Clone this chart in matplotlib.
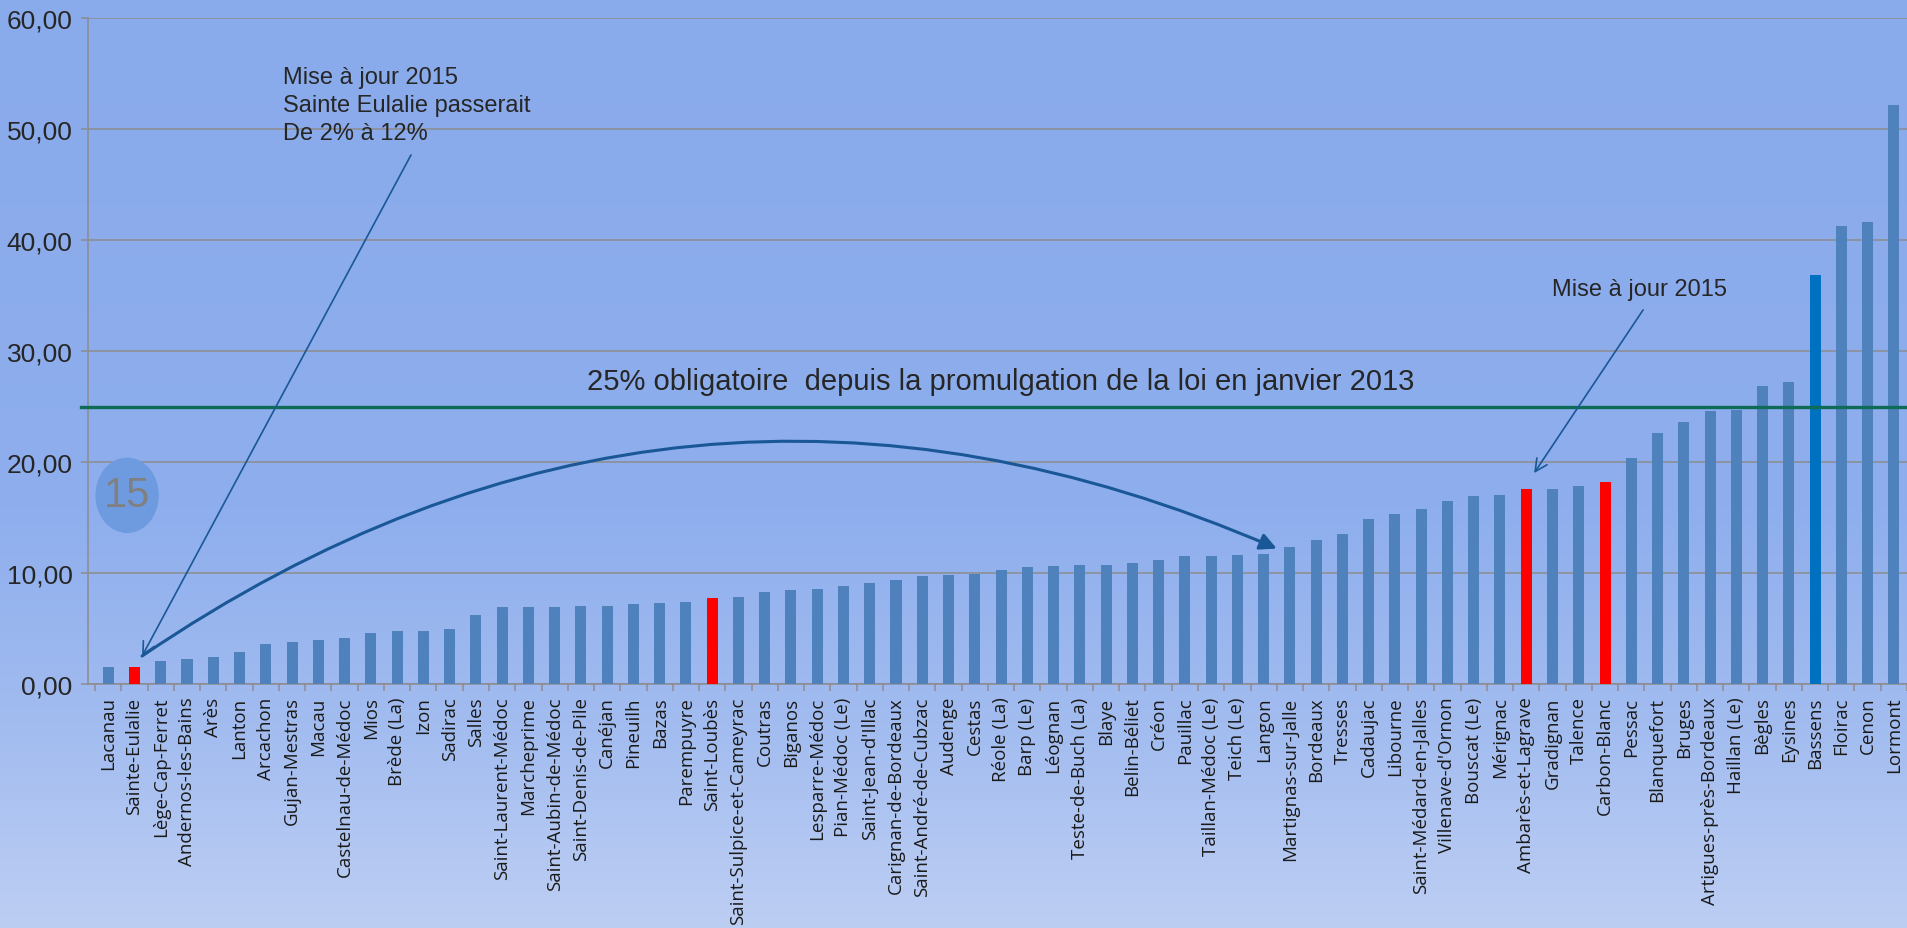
import numpy as np
import matplotlib.pyplot as plt
from matplotlib.patches import Ellipse, FancyArrowPatch
from matplotlib.colors import to_rgb

# data (% logements sociaux par commune)
communes = [
    "Lacanau", "Sainte-Eulalie", "Lège-Cap-Ferret", "Andernos-les-Bains", "Arès",
    "Lanton", "Arcachon", "Gujan-Mestras", "Macau", "Castelnau-de-Médoc", "Mios",
    "Brède (La)", "Izon", "Sadirac", "Salles", "Saint-Laurent-Médoc", "Marcheprime",
    "Saint-Aubin-de-Médoc", "Saint-Denis-de-Pile", "Canéjan", "Pineuilh", "Bazas",
    "Parempuyre", "Saint-Loubès", "Saint-Sulpice-et-Cameyrac", "Coutras", "Biganos",
    "Lesparre-Médoc", "Pian-Médoc (Le)", "Saint-Jean-d'Illac", "Carignan-de-Bordeaux",
    "Saint-André-de-Cubzac", "Audenge", "Cestas", "Réole (La)", "Barp (Le)", "Léognan",
    "Teste-de-Buch (La)", "Blaye", "Belin-Béliet", "Créon", "Pauillac",
    "Taillan-Médoc (Le)", "Teich (Le)", "Langon", "Martignas-sur-Jalle", "Bordeaux",
    "Tresses", "Cadaujac", "Libourne", "Saint-Médard-en-Jalles", "Villenave-d'Ornon",
    "Bouscat (Le)", "Mérignac", "Ambarès-et-Lagrave", "Gradignan", "Talence",
    "Carbon-Blanc", "Pessac", "Blanquefort", "Bruges", "Artigues-près-Bordeaux",
    "Haillan (Le)", "Bègles", "Eysines", "Bassens", "Floirac", "Cenon", "Lormont",
]
taux = [
    1.50, 1.50, 2.10, 2.22, 2.43, 2.91, 3.60, 3.81, 3.96, 4.17, 4.63,
    4.74, 4.74, 4.98, 6.25, 6.94, 6.94, 6.94, 7.06, 7.06, 7.18, 7.30,
    7.39, 7.75, 7.87, 8.32, 8.44, 8.56, 8.80, 9.13, 9.37,
    9.70, 9.82, 9.94, 10.27, 10.51, 10.63, 10.75, 10.75, 10.87, 11.20, 11.53,
    11.53, 11.65, 11.70, 12.36, 12.95, 13.50, 14.88, 15.32, 15.80, 16.49,
    16.96, 17.06, 17.53, 17.53, 17.87, 18.23, 20.40, 22.60, 23.62, 24.55,
    24.65, 26.86, 27.20, 36.85, 41.25, 41.60, 52.20,
]
communes_rouges = ["Sainte-Eulalie", "Saint-Loubès", "Ambarès-et-Lagrave", "Carbon-Blanc"]
commune_bleue = "Bassens"
seuil = 25
yticks = [0, 10, 20, 30, 40, 50, 60]

txt_seuil = "25% obligatoire  depuis la promulgation de la loi en janvier 2013"
txt_gauche = "Mise à jour 2015\nSainte Eulalie passerait\nDe 2% à 12%"
txt_droite = "Mise à jour 2015"
txt_bulle = "15"

W, H = 1907, 929
fig = plt.figure(figsize=(W / 100, H / 100), dpi=100)

# gradient background over the whole figure
bg = fig.add_axes([0, 0, 1, 1], zorder=-10)
stops = [0.0, 0.55, 0.78, 1.0]
cols = np.array([to_rgb(c) for c in ["#89aaeb", "#8eaeed", "#a2bcf0", "#bdcef3"]])
yy = np.linspace(0, 1, 400)
grad = np.stack([np.interp(yy, stops, cols[:, k]) for k in range(3)], axis=1)
bg.imshow(grad[:, None, :], aspect="auto", extent=[0, 1, 0, 1], origin="upper")
bg.axis("off")

ax = fig.add_axes([88 / W, 1 - 685 / H, 1 - 88 / W, (685 - 19) / H])
ax.set_facecolor("none")

x = np.arange(len(communes))
couleurs = []
for c in communes:
    if c in communes_rouges:
        couleurs.append("#ff0000")
    elif c == commune_bleue:
        couleurs.append("#0070c0")
    else:
        couleurs.append("#4f81bd")
ax.bar(x, taux, width=0.42, color=couleurs, zorder=3)

ax.set_xlim(-0.77, len(communes) - 1 + 0.46)
ax.set_ylim(0, 60)

grid_col = "#8c8c8c"
ax.set_yticks(yticks)
ax.set_yticklabels([f"{v:.2f}".replace(".", ",") for v in yticks],
                   fontfamily="Liberation Sans", fontsize=19, color="#262626")
ax.yaxis.grid(True, color=grid_col, lw=1.1, zorder=0)
ax.tick_params(axis="y", length=5, width=1.1, color=grid_col, pad=6)

ax.set_xticks(x)
ax.set_xticklabels(communes, rotation=90, fontfamily="Open Sans", fontsize=13.5,
                   color="#1a1a1a")
ax.set_xticks(np.arange(len(communes) + 1) - 0.5, minor=True)
ax.tick_params(axis="x", which="major", length=0, pad=9)
ax.tick_params(axis="x", which="minor", length=5, width=1.1, color=grid_col)

for s in ["top", "right"]:
    ax.spines[s].set_visible(False)
for s in ["left", "bottom"]:
    ax.spines[s].set_color(grid_col)
    ax.spines[s].set_linewidth(1.1)

# 25% line
ax.axhline(seuil, xmin=-0.004, color="#0e6b55", lw=2.4, zorder=4, clip_on=False)
ax.text(33.98, 27.3, txt_seuil, ha="center", va="center", fontsize=21,
        fontfamily="Liberation Sans", color="#262626", zorder=5)

# left annotation
ax.text(6.66, 55.7, txt_gauche, ha="left", va="top", fontsize=17,
        fontfamily="Liberation Sans", color="#262626", linespacing=1.35, zorder=5)
arrow_col = "#1a5796"
ax.add_patch(FancyArrowPatch((11.53, 47.66), (1.29, 2.52), arrowstyle="->",
                             mutation_scale=22, lw=1.2, color=arrow_col,
                             shrinkA=0, shrinkB=0, zorder=6))
# curved arrow
ax.add_patch(FancyArrowPatch((1.29, 2.52), (44.5, 12.2), arrowstyle="-|>",
                             connectionstyle="arc3,rad=-0.275",
                             mutation_scale=25, lw=2.2, color=arrow_col,
                             shrinkA=0, shrinkB=0, zorder=6))

# right annotation
ax.text(55.0, 35.6, txt_droite, ha="left", va="center", fontsize=17,
        fontfamily="Liberation Sans", color="#262626", zorder=5)
ax.add_patch(FancyArrowPatch((58.45, 33.7), (54.3, 19.0), arrowstyle="->",
                             mutation_scale=22, lw=1.2, color=arrow_col,
                             shrinkA=0, shrinkB=0, zorder=6))

# "15" bubble
ax.add_patch(Ellipse((0.72, 17.0), 2.36, 6.67, color="#6e9be0", zorder=5))
ax.text(0.72, 17.0, txt_bulle, ha="center", va="center", fontsize=30,
        fontfamily="Liberation Sans", color="#808080", zorder=6)

fig.savefig("out.png", dpi=100)
